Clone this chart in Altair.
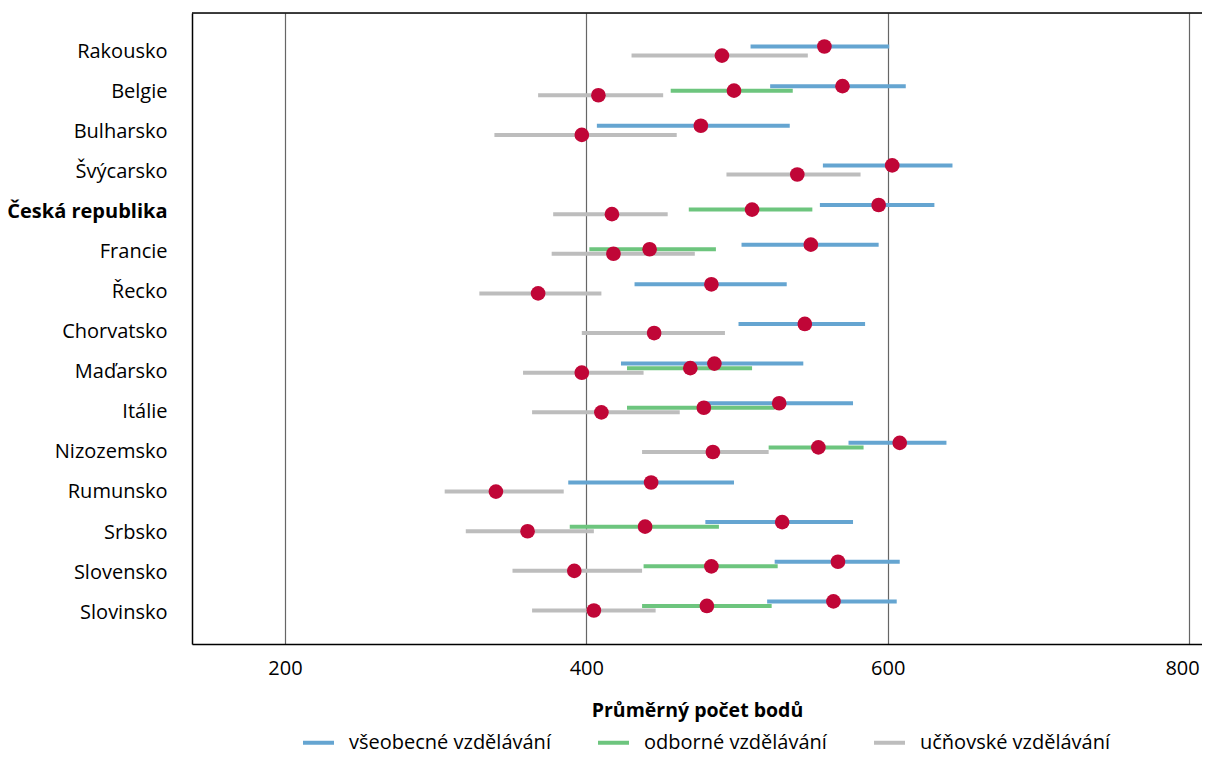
import altair as alt
import pandas as pd
import json

countries = ["Rakousko", "Belgie", "Bulharsko", "Švýcarsko", "Česká republika",
             "Francie", "Řecko", "Chorvatsko", "Maďarsko", "Itálie",
             "Nizozemsko", "Rumunsko", "Srbsko", "Slovensko", "Slovinsko"]

series = ["všeobecné vzdělávání", "odborné vzdělávání", "učňovské vzdělávání"]
colors = ["#65A5D1", "#6DC57E", "#BDBDBD"]

# všeobecné vzdělávání: low, mean, high
gen_low  = [509, 522, 407, 557, 555, 503, 432, 501, 423, 480, 574, 388, 479, 525, 520]
gen_mean = [558, 570, 476, 603, 594, 549, 483, 545, 485, 528, 608, 443, 530, 567, 564]
gen_high = [601, 612, 535, 643, 631, 594, 533, 585, 544, 577, 639, 498, 577, 608, 606]

# odborné vzdělávání
voc_low  = [None, 456, None, None, 468, 402, None, None, 427, 427, 521, None, 389, 438, 437]
voc_mean = [None, 498, None, None, 510, 442, None, None, 469, 478, 554, None, 439, 483, 480]
voc_high = [None, 537, None, None, 550, 486, None, None, 510, 525, 584, None, 488, 527, 523]

# učňovské vzdělávání
app_low  = [430, 368, 339, 493, 378, 377, 329, 397, 358, 364, 437, 306, 320, 351, 364]
app_mean = [490, 408, 397, 540, 417, 418, 368, 445, 397, 410, 484, 340, 361, 392, 405]
app_high = [547, 451, 460, 582, 454, 472, 410, 492, 438, 462, 521, 385, 405, 437, 446]

x_ticks = [200, 400, 600, 800]

W, H = 1010, 631
FONT = "Open Sans"
FS = 20


def frame(name, lo, me, hi):
    rows = []
    for c, a, m, b in zip(countries, lo, me, hi):
        if m is None:
            continue
        rows.append({"stat": c, "typ": name, "low": a, "mean": m, "high": b})
    return pd.DataFrame(rows)


frames = [frame(series[0], gen_low, gen_mean, gen_high),
          frame(series[1], voc_low, voc_mean, voc_high),
          frame(series[2], app_low, app_mean, app_high)]
band_pos = [0.385, 0.5, 0.615]

xscale = alt.Scale(domain=[138.3, 808.6], nice=False, zero=False)
yscale = alt.Scale(domain=countries, paddingInner=0, paddingOuter=0.46)

xaxis = alt.Axis(values=x_ticks, grid=True, gridColor="#666666", gridWidth=1.2,
                 ticks=False, domain=True, domainColor="#000000", domainWidth=1.5,
                 labelFontSize=FS, labelColor="#000000", labelFont=FONT, labelPadding=14,
                 labelOffset=alt.expr("datum.value == 800 ? -7 : 0"),
                 title="Průměrný počet bodů", titleFont=FONT, titleFontSize=19.5,
                 titleFontWeight="bold", titleColor="#000000", titlePadding=23)
yaxis = alt.Axis(title=None, ticks=False, domain=True, domainColor="#000000",
                 domainWidth=1.5, grid=False, labelFontSize=FS, labelColor="#000000",
                 labelFont=FONT, labelPadding=25, labelLimit=300,
                 labelOffset=alt.expr("0.45 * indexof(" + json.dumps(countries, ensure_ascii=False)
                                      + ", datum.value) + 0.5"),
                 labelFontWeight=alt.expr("datum.value == 'Česká republika' ? 'bold' : 'normal'"))

color = alt.Color("typ:N", scale=alt.Scale(domain=series, range=colors),
                  legend=alt.Legend(title=None, orient="none", legendX=109, legendY=712,
                                    direction="horizontal", symbolType="stroke",
                                    symbolStrokeWidth=4, symbolSize=961,
                                    labelFontSize=FS, labelFont=FONT, labelColor="#000000",
                                    columnPadding=39, labelOffset=13, padding=0,
                                    labelLimit=400))

rules = []
dots = []
for df, bp in zip(frames, band_pos):
    base = alt.Chart(df)
    y = alt.Y("stat:N", scale=yscale, axis=yaxis, bandPosition=bp, sort=countries)
    rules.append(base.mark_rule(strokeWidth=4).encode(
        x=alt.X("low:Q", scale=xscale, axis=xaxis),
        x2="high:Q", y=y, color=color))
    dots.append(base.mark_circle(size=215, opacity=1, color="#C00637").encode(
        x=alt.X("mean:Q", scale=xscale, axis=xaxis), y=y))

top = alt.Chart(pd.DataFrame({"a": [0]})).mark_rule(color="#000000", strokeWidth=1.5).encode(
    x=alt.value(0), x2=alt.value(W), y=alt.value(0))

chart = alt.layer(*rules, *dots, top).properties(
    width=W, height=H,
    autosize=alt.AutoSizeParams(type="none"),
    padding={"left": 184, "top": 5, "right": 0, "bottom": 111},
).configure_view(strokeWidth=0).configure(font=FONT)

chart.save("out.html", embed_options={"renderer": "svg", "actions": False})
